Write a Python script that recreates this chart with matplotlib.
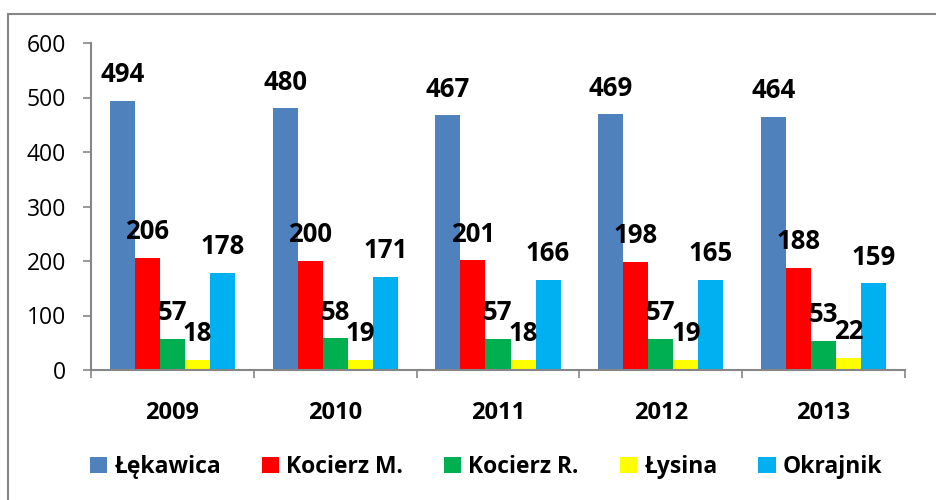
import matplotlib
matplotlib.use("Agg")
import matplotlib.pyplot as plt
import numpy as np
from matplotlib.patches import Rectangle

years = ["2009", "2010", "2011", "2012", "2013"]
series_names = ["Łękawica", "Kocierz M.", "Kocierz R.", "Łysina", "Okrajnik"]
lekawica = [494, 480, 467, 469, 464]
kocierz_m = [206, 200, 201, 198, 188]
kocierz_r = [57, 58, 57, 57, 53]
lysina = [18, 19, 18, 19, 22]
okrajnik = [178, 171, 166, 165, 159]
colors = ["#4F81BD", "#FF0000", "#00B050", "#FFFF00", "#00B0F0"]

plt.rcParams['font.family'] = ['Open Sans', 'DejaVu Sans']

fig = plt.figure(figsize=(9.36, 5.0), dpi=100)
ax = fig.add_axes([91/936, 1-370/500, (905-91)/936, (370-43)/500])

data = [lekawica, kocierz_m, kocierz_r, lysina, okrajnik]
x = np.arange(len(years))
w = 1/6.5
for i, (name, vals, c) in enumerate(zip(series_names, data, colors)):
    pos = x + (i - 2) * w
    bars = ax.bar(pos, vals, width=w, color=c, label=name, edgecolor='none')
    for b, v in zip(bars, vals):
        ax.annotate(str(v), (b.get_x() + b.get_width()/2, v), xytext=(0, 13.5),
                    textcoords='offset points', ha='center', va='baseline',
                    fontsize=18.5, fontweight='bold', color='black')

ax.set_xlim(-0.5, len(years) - 0.5)
ax.set_ylim(0, 600)
ax.set_yticks(range(0, 601, 100))
ax.set_xticks(np.arange(-0.5, len(years), 1.0), minor=False)
ax.set_xticklabels([])
ax.set_xticks(x, minor=True)
ax.set_xticklabels(years, minor=True, fontsize=17, fontweight='bold')
ax.tick_params(axis='x', which='minor', length=0, pad=22)
ax.tick_params(axis='x', which='major', length=6, direction='out', color='#868686', width=1.2)
ax.tick_params(axis='y', length=6, direction='out', color='#868686', width=1.2, labelsize=16.5, pad=12)
for s in ['top', 'right']:
    ax.spines[s].set_visible(False)
for s in ['left', 'bottom']:
    ax.spines[s].set_color('#868686')
    ax.spines[s].set_linewidth(1.5)

leg = fig.legend(loc='center', bbox_to_anchor=(486/936, 1-467/500), ncol=5, frameon=False,
                 prop={'size': 16.5, 'weight': 'bold'}, handlelength=0.75, handleheight=0.75,
                 handletextpad=0.3, columnspacing=1.8)

fig.add_artist(Rectangle((8/936, -0.1), 1.2, 1.1 - 14/500, transform=fig.transFigure,
                         fill=False, edgecolor='#868686', linewidth=1.5))

fig.savefig("out.png", dpi=100)
